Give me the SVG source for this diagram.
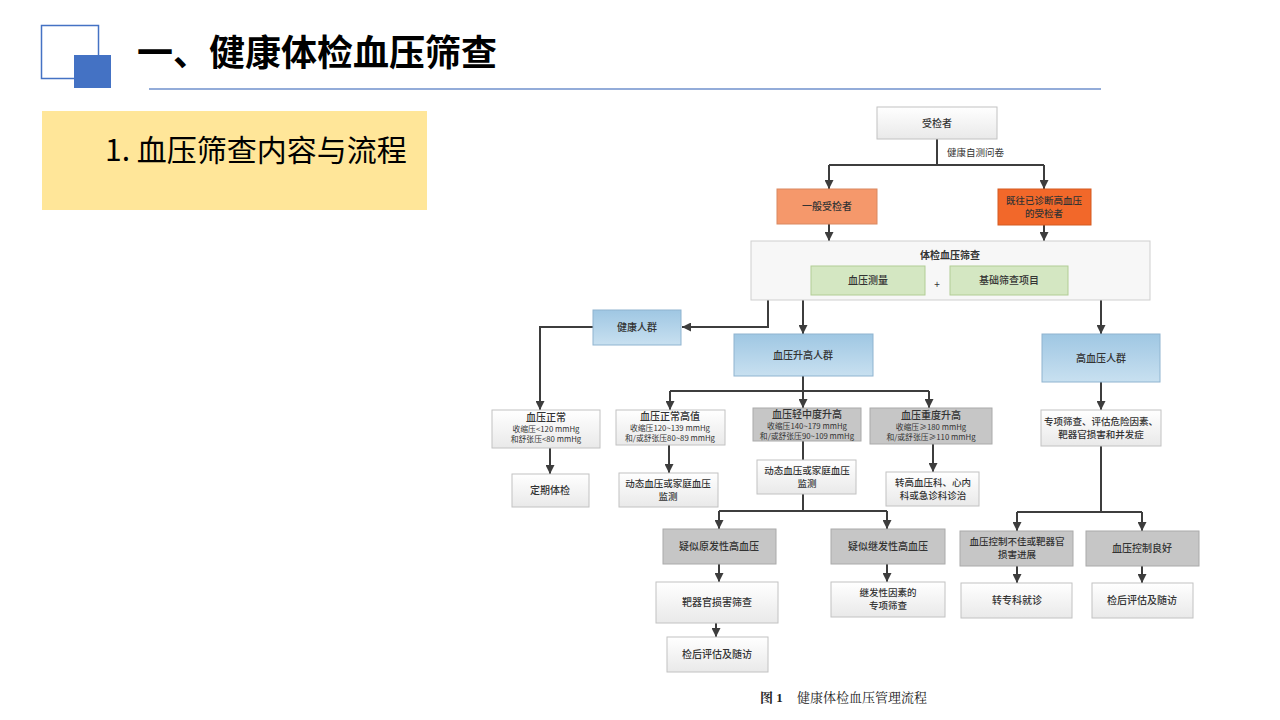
<svg xmlns="http://www.w3.org/2000/svg" width="1280" height="720" viewBox="0 0 1280 720">
<defs>
<linearGradient id="gLight" x1="0" y1="0" x2="0" y2="1"><stop offset="0" stop-color="#ffffff"/><stop offset="1" stop-color="#e9e9e9"/></linearGradient>
<linearGradient id="gBlue" x1="0" y1="0" x2="0" y2="1"><stop offset="0" stop-color="#9fc7e3"/><stop offset="1" stop-color="#c8e0f0"/></linearGradient>
<marker id="arr" viewBox="0 0 10 10" refX="10" refY="5" markerWidth="9" markerHeight="9" markerUnits="userSpaceOnUse" orient="auto"><path d="M0,0 L10,5 L0,10 z" fill="#3d3d3d"/></marker>
<style>
.light{fill:url(#gLight);stroke:#c2c2c2;stroke-width:1}
.gray{fill:#c6c6c6;stroke:#aaaaaa;stroke-width:1}
.blue{fill:url(#gBlue);stroke:#8fb4d0;stroke-width:1}
.green{fill:#d4e7c2;stroke:#b2cd95;stroke-width:1}
.or1{fill:#f5986b;stroke:#d98860;stroke-width:1}
.or2{fill:#f2682a;stroke:#d45a20;stroke-width:1}
.big{fill:#f7f7f7;stroke:#cfcfcf;stroke-width:1}
text{font-family:"Noto Sans CJK SC","Noto Sans",sans-serif;fill:#333333;text-anchor:middle}
.t{font-size:10px;font-weight:500}
.t2{font-size:9.5px;font-weight:500}
.s{font-size:7.8px}
.tt{font-size:10px;font-weight:500}
.con path{fill:none;stroke:#3d3d3d;stroke-width:2}
</style>
</defs>
<rect width="1280" height="720" fill="#ffffff"/>

<g id="header">
<rect x="41.5" y="25.5" width="57" height="53" fill="none" stroke="#4472c4" stroke-width="1.5"/>
<rect x="74" y="55" width="37" height="33" fill="#4472c4"/>
<text x="137" y="66" style="font-size:36px;font-weight:bold;text-anchor:start;fill:#000">一、健康体检血压筛查</text>
<line x1="149" y1="89" x2="1101" y2="89" stroke="#6f90cc" stroke-width="1.5"/>
</g>

<g id="subtitle">
<rect x="42" y="111" width="385" height="99" fill="#ffe699"/>
<text x="105" y="161" style="font-size:30px;text-anchor:start;fill:#000">1. 血压筛查内容与流程</text>
</g>

<g class="con" id="connectors">
<path d="M937,139 V165"/>
<path d="M829,165 H1044"/>
<path d="M829,165 V189" marker-end="url(#arr)"/>
<path d="M1044,165 V189" marker-end="url(#arr)"/>
<path d="M829,224 V241" marker-end="url(#arr)"/>
<path d="M1044,225 V241" marker-end="url(#arr)"/>
<path d="M768,300 V327 H682" marker-end="url(#arr)"/>
<path d="M803,300 V334" marker-end="url(#arr)"/>
<path d="M1101,300 V334" marker-end="url(#arr)"/>
<path d="M593,327 H540 V410" marker-end="url(#arr)"/>
<path d="M803,376 V391"/>
<path d="M670,391 H929"/>
<path d="M670,391 V410" marker-end="url(#arr)"/>
<path d="M803,391 V408" marker-end="url(#arr)"/>
<path d="M929,391 V408" marker-end="url(#arr)"/>
<path d="M1101,382 V410" marker-end="url(#arr)"/>
<path d="M550,448 V474" marker-end="url(#arr)"/>
<path d="M669,445 V473" marker-end="url(#arr)"/>
<path d="M803,441 V460"/>
<path d="M933,444 V472" marker-end="url(#arr)"/>
<path d="M803,494 V511"/>
<path d="M719,511 H887"/>
<path d="M719,511 V529" marker-end="url(#arr)"/>
<path d="M887,511 V529" marker-end="url(#arr)"/>
<path d="M1101,446 V512"/>
<path d="M1017,512 H1142"/>
<path d="M1017,512 V531" marker-end="url(#arr)"/>
<path d="M1142,512 V531" marker-end="url(#arr)"/>
<path d="M719,564 V582" marker-end="url(#arr)"/>
<path d="M887,564 V582" marker-end="url(#arr)"/>
<path d="M716,623 V637" marker-end="url(#arr)"/>
<path d="M1017,566 V583" marker-end="url(#arr)"/>
<path d="M1142,566 V583" marker-end="url(#arr)"/>
</g>

<g id="n-subject"><rect class="light" x="877" y="107" width="120" height="32"/><text class="t" x="937" y="127">受检者</text></g>
<g id="n-questionnaire-label"><text x="947" y="156" style="font-size:9.5px;text-anchor:start">健康自测问卷</text></g>
<g id="n-general"><rect class="or1" x="777" y="189" width="100" height="35"/><text class="t" x="827" y="210">一般受检者</text></g>
<g id="n-diagnosed"><rect class="or2" x="998" y="189" width="93" height="36"/><text class="t2" x="1044" y="204">既往已诊断高血压</text><text class="t2" x="1044" y="217">的受检者</text></g>

<g id="n-screening"><rect class="big" x="751" y="241" width="399" height="59"/><text class="t" x="950" y="259" style="font-weight:bold">体检血压筛查</text>
<rect class="green" x="811" y="266" width="114" height="29"/><text class="t" x="868" y="284">血压测量</text>
<text x="937" y="288" style="font-size:10px">+</text>
<rect class="green" x="950" y="266" width="118" height="29"/><text class="t" x="1009" y="284">基础筛查项目</text></g>

<g id="n-healthy"><rect class="blue" x="593" y="310" width="88" height="35"/><text class="t" x="637" y="331">健康人群</text></g>
<g id="n-elevated"><rect class="blue" x="734" y="334" width="139" height="42"/><text class="t" x="803" y="359">血压升高人群</text></g>
<g id="n-hypertension"><rect class="blue" x="1042" y="334" width="118" height="48"/><text class="t" x="1101" y="362">高血压人群</text></g>

<g id="n-normal"><rect class="light" x="492" y="410" width="108" height="38"/><text class="tt" x="546" y="421">血压正常</text><text class="s" x="546" y="432">收缩压&lt;120 mmHg</text><text class="s" x="546" y="442">和舒张压&lt;80 mmHg</text></g>
<g id="n-highnormal"><rect class="light" x="616" y="410" width="109" height="35"/><text class="tt" x="670" y="420">血压正常高值</text><text class="s" x="670" y="431">收缩压120~139 mmHg</text><text class="s" x="670" y="441">和/或舒张压80~89 mmHg</text></g>
<g id="n-mild"><rect class="gray" x="753" y="408" width="108" height="33"/><text class="tt" x="807" y="418">血压轻中度升高</text><text class="s" x="807" y="428.5">收缩压140~179 mmHg</text><text class="s" x="807" y="438.5">和/或舒张压90~109 mmHg</text></g>
<g id="n-severe"><rect class="gray" x="870" y="408" width="122" height="36"/><text class="tt" x="931" y="419">血压重度升高</text><text class="s" x="931" y="430">收缩压≥180 mmHg</text><text class="s" x="931" y="440">和/或舒张压≥110 mmHg</text></g>
<g id="n-special"><rect class="light" x="1041" y="410" width="120" height="36"/><text class="t2" x="1101" y="425">专项筛查、评估危险因素、</text><text class="t2" x="1101" y="438">靶器官损害和并发症</text></g>

<g id="n-regular"><rect class="light" x="512" y="474" width="77" height="33"/><text class="t" x="550" y="494">定期体检</text></g>
<g id="n-abpm1"><rect class="light" x="619" y="473" width="99" height="34"/><text class="t2" x="668" y="487">动态血压或家庭血压</text><text class="t2" x="668" y="500">监测</text></g>
<g id="n-abpm2"><rect class="light" x="757" y="460" width="99" height="34"/><text class="t2" x="807" y="474">动态血压或家庭血压</text><text class="t2" x="807" y="487">监测</text></g>
<g id="n-refer1"><rect class="light" x="886" y="472" width="93" height="34"/><text class="t2" x="933" y="486">转高血压科、心内</text><text class="t2" x="933" y="499">科或急诊科诊治</text></g>

<g id="n-primary"><rect class="gray" x="663" y="529" width="113" height="35"/><text class="t" x="719" y="550">疑似原发性高血压</text></g>
<g id="n-secondary"><rect class="gray" x="831" y="529" width="114" height="35"/><text class="t" x="888" y="550">疑似继发性高血压</text></g>
<g id="n-target"><rect class="light" x="656" y="582" width="122" height="41"/><text class="t" x="717" y="606">靶器官损害筛查</text></g>
<g id="n-secfactors"><rect class="light" x="831" y="582" width="114" height="35"/><text class="t2" x="888" y="596">继发性因素的</text><text class="t2" x="888" y="609">专项筛查</text></g>
<g id="n-followup1"><rect class="light" x="667" y="637" width="101" height="35"/><text class="t" x="717" y="658">检后评估及随访</text></g>

<g id="n-poor"><rect class="gray" x="960" y="531" width="113" height="35"/><text class="t2" x="1017" y="545">血压控制不佳或靶器官</text><text class="t2" x="1017" y="558">损害进展</text></g>
<g id="n-good"><rect class="gray" x="1086" y="531" width="113" height="35"/><text class="t" x="1142" y="552">血压控制良好</text></g>
<g id="n-specialist"><rect class="light" x="961" y="583" width="111" height="35"/><text class="t" x="1017" y="604">转专科就诊</text></g>
<g id="n-followup2"><rect class="light" x="1092" y="583" width="101" height="35"/><text class="t" x="1142" y="604">检后评估及随访</text></g>

<g id="caption"><text x="760" y="702" style="font-family:'Liberation Serif','Noto Serif CJK SC','Noto Sans CJK SC',serif;font-size:13px;font-weight:bold;text-anchor:start;fill:#222">图 1</text><text x="797" y="702" style="font-family:'Liberation Serif','Noto Serif CJK SC','Noto Sans CJK SC',serif;font-size:13px;text-anchor:start;fill:#222">健康体检血压管理流程</text></g>
</svg>
